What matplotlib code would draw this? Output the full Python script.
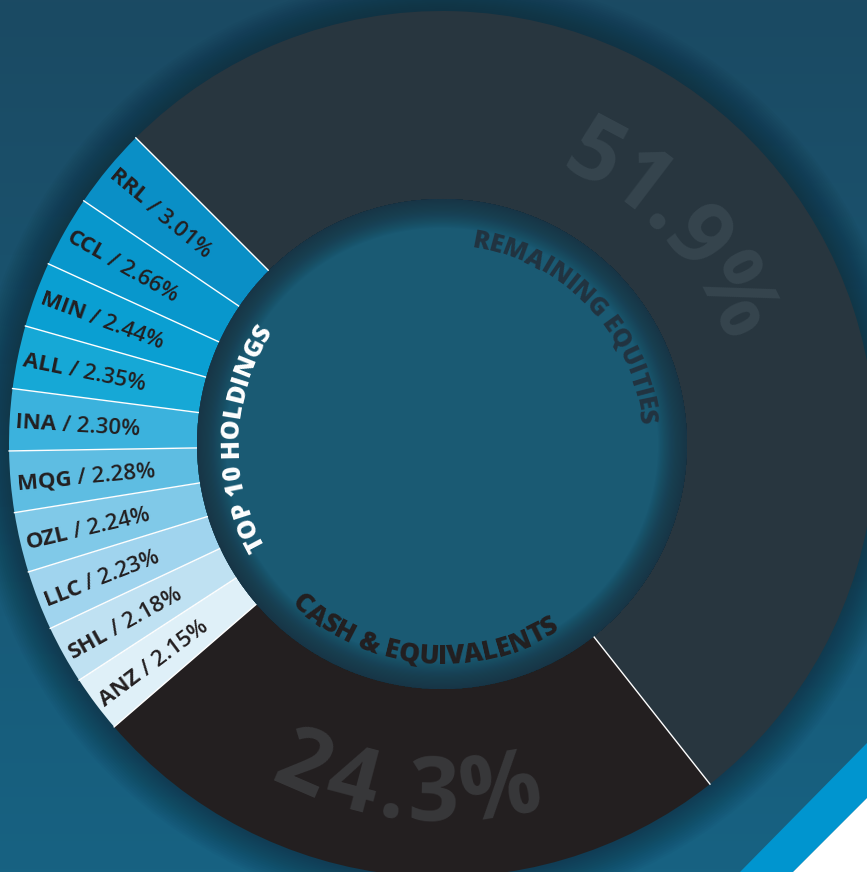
import numpy as np
import matplotlib
matplotlib.use('Agg')
import matplotlib.pyplot as plt
from matplotlib.patches import Circle, Wedge, Polygon
from matplotlib.colors import to_rgb
from matplotlib.font_manager import FontProperties

# donnees
tickers = ['RRL', 'CCL', 'MIN', 'ALL', 'INA', 'MQG', 'OZL', 'LLC', 'SHL', 'ANZ']
weights = [3.01, 2.66, 2.44, 2.35, 2.30, 2.28, 2.24, 2.23, 2.18, 2.15]
holding_colors = ['#0a8fc6', '#0897cc', '#0a9fd2', '#16a8d6', '#3bb2dd',
                  '#5ebde2', '#80c9e8', '#a0d4ee', '#bfe1f2', '#dff0f8']
remaining_pct = 51.9
cash_pct = 24.3

REMAINING_COLOR = '#28363f'
CASH_COLOR = '#231f20'
HOLE_COLOR = '#1a5a73'

W, H = 867, 872
CX, CY = 442, 428
R_OUT, R_IN = 433, 245

fig = plt.figure(figsize=(W / 100, H / 100), dpi=100)
ax = fig.add_axes([0, 0, 1, 1])

# fond degrade
top = np.array(to_rgb('#1b4a63'))
bot = np.array(to_rgb('#176282'))
t = np.linspace(0, 1, 256)[:, None]
grad = top * (1 - t) + bot * t
ax.imshow(grad[:, None, :], extent=[0, W, 0, H], aspect='auto', zorder=-10)

# bande bleue en bas a droite
ax.add_patch(Polygon([(867, 872 - 743), (740, 0), (793, 0), (867, 872 - 798)],
                     closed=True, color='#0095cf', lw=0, zorder=-5))
ax.add_patch(Polygon([(867, 872 - 798), (793, 0), (867, 0)],
                     closed=True, color='white', lw=0, zorder=-5))

# ombre autour de l'anneau
for r in np.linspace(R_OUT + 36, R_OUT, 18):
    ax.add_patch(Circle((CX, CY), r, color='#10222c', alpha=0.035, lw=0, zorder=0))

values = [remaining_pct, cash_pct] + weights[::-1]
colors = [REMAINING_COLOR, CASH_COLOR] + holding_colors[::-1]
ax.pie(values, colors=colors, startangle=135, counterclock=False,
       radius=R_OUT, center=(CX, CY),
       wedgeprops=dict(width=R_OUT - R_IN, linewidth=0))

total = sum(values)
bounds = 135 - 360 * np.concatenate([[0], np.cumsum(values)]) / total
for a in bounds[:-1]:
    th = np.radians(a)
    ax.plot([CX + R_IN * np.cos(th), CX + R_OUT * np.cos(th)],
            [CY + R_IN * np.sin(th), CY + R_OUT * np.sin(th)],
            color='white', lw=1, zorder=2)

# trou central avec ombre interieure
ax.add_patch(Circle((CX, CY), R_IN, color=HOLE_COLOR, lw=0, zorder=3))
for k in range(1, 25):
    ax.add_patch(Wedge((CX, CY), R_IN, 0, 360, width=k * 1.2,
                       color='#172f3c', alpha=0.05, lw=0, zorder=3))

renderer = fig.canvas.get_renderer()


def text_w(s, prop):
    w, h, d = renderer.get_text_width_height_descent(s, prop, ismath=False)
    return w


def char_w(c, prop):
    return text_w('H' + c + 'H', prop) - text_w('HH', prop)


def arc_text(s, r_base, theta_c, prop, color, outward=True, spacing=0.0):
    widths = [char_w(c, prop) for c in s]
    length = sum(widths) + spacing * (len(s) - 1)
    sign = -1 if outward else 1
    th0 = np.radians(theta_c) - sign * (length / r_base) / 2
    pos = 0
    for c, w in zip(s, widths):
        th = th0 + sign * (pos + w / 2) / r_base
        rot = np.degrees(th) - 90 if outward else np.degrees(th) + 90
        ax.text(CX + r_base * np.cos(th), CY + r_base * np.sin(th), c,
                rotation=rot, rotation_mode='anchor', ha='center', va='baseline',
                fontproperties=prop, color=color, zorder=6)
        pos += w + spacing


# etiquettes des 10 titres
lab_size = 16
bold = FontProperties(family='Open Sans', weight='bold', size=lab_size)
reg = FontProperties(family='Open Sans', weight='semibold', size=lab_size)
cap = 0.72 * lab_size * 100 / 72
mids = (bounds[2:-1] + bounds[3:]) / 2  # ANZ ... RRL
r0 = 427
for name, pct, a in zip(tickers[::-1], weights[::-1], mids):
    th = np.radians(a)
    phi = ((a + 180 + 180) % 360) - 180
    ph = np.radians(phi)
    ux, uy = -np.sin(ph), np.cos(ph)
    wt = text_w(name, bold)
    for txt, prop, r in [(name, bold, r0),
                         ('/ %.2f%%' % pct, reg, r0 - wt - 0.26 * lab_size * 100 / 72)]:
        x = CX + r * np.cos(th) - ux * cap / 2
        y = CY + r * np.sin(th) - uy * cap / 2
        ax.text(x, y, txt, rotation=phi, rotation_mode='anchor', ha='left',
                va='baseline', fontproperties=prop, color='#231f20', zorder=6)

# textes courbes
title_bold = FontProperties(family='Open Sans', weight='heavy', size=18)
arc_text('TOP 10 HOLDINGS', 204, 178, title_bold, 'white', outward=True)
arc_text('REMAINING EQUITIES', 199, 43.5,
         FontProperties(family='Open Sans', weight='heavy', size=18),
         '#223340', outward=True, spacing=-0.3)
arc_text('CASH & EQUIVALENTS', 220, -95.4,
         FontProperties(family='Open Sans', weight='heavy', size=19),
         '#231f20', outward=False)

big = FontProperties(family='Open Sans', weight='bold', size=64)
arc_text('51.9%', 300, 43, big, '#36454e', outward=True, spacing=-2)
arc_text('24.3%', 377, -95.8, big, '#38383a', outward=False, spacing=6)

ax.set_xlim(0, W)
ax.set_ylim(0, H)
ax.set_aspect('auto')
ax.set_axis_off()

plt.savefig('out.png', dpi=100)
plt.close()
